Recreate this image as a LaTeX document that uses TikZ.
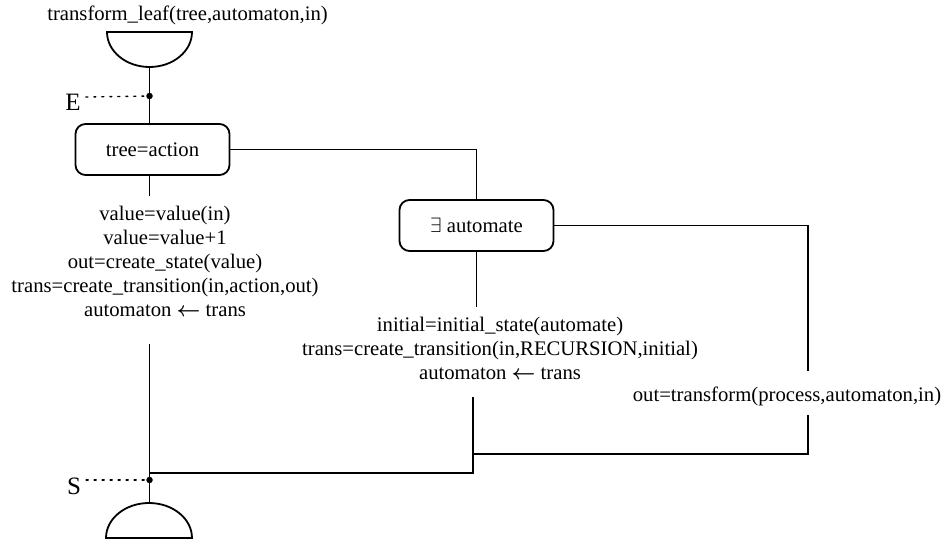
\documentclass[tikz,border=0pt]{standalone}
\usepackage{fontspec}
\setmainfont{Liberation Serif}
\newcommand{\assignarrow}{{\boldmath$\leftarrow$}}
\begin{document}
\begin{tikzpicture}[x=1pt,y=-1pt,
  line/.style={line width=1.8pt,line join=miter},
  box/.style={draw,line width=1.8pt,rounded corners=10pt,minimum width=154pt,minimum height=51pt,inner sep=0pt,font=\fontsize{20.7}{22}\selectfont},
  txt/.style={inner sep=0pt,align=center,font=\fontsize{20.7}{24}\selectfont},
  letter/.style={inner sep=0pt,font=\fontsize{25}{25}\selectfont},
  dotline/.style={line width=1.4pt,dash pattern=on 2pt off 6pt,line cap=round},
  junction/.style={circle,fill,inner sep=0pt,minimum size=6.5pt}]
\useasboundingbox (0,0) rectangle (946,543);

% heading
\node[txt] (title) at (187.5,15) {transform\_leaf(tree,automaton,in)};

% start cup
\draw[line] (107,32) -- (192,32) arc[start angle=0,end angle=-180,x radius=42.5pt,y radius=35pt] -- cycle;
\coordinate (cupT) at (149.5,67);

% entry point
\node[junction] (Edot) at (149.5,96) {};
\node[letter] (Elab) at (73,102) {E};
\draw[dotline] (Elab.east) ++(5,-5) coordinate (Estart) (Estart) -- (Edot);

% first test
\node[box] (action) at (152.5,149.5) {tree=action};
\draw[line] (cupT) -- (cupT |- action.north);

% leaf branch
\coordinate (aBelow) at (149.5,196);
\draw[line] (action.south -| cupT) -- (aBelow);
\node[txt] (leftcode) at (165,261) {value=value(in)\\value=value+1\\out=create\_state(value)\\trans=create\_transition(in,action,out)\\automaton \assignarrow{} trans};

% second test
\node[box] (exists) at (476.5,225.5) {$\exists$ automate};
\draw[line] (action.east) -| (exists.north);

% recursion branch
\coordinate (xBelow) at (476.5,307);
\draw[line] (exists.south) -- (xBelow);
\node[txt] (midcode) at (500,348) {initial=initial\_state(automate)\\trans=create\_transition(in,RECURSION,initial)\\automaton \assignarrow{} trans};

% process branch
\coordinate (rTop) at (808,371);
\draw[line] (exists.east) -| (rTop);
\node[txt] (rightcode) at (787,396) {out=transform(process,automaton,in)};
\coordinate (rBot) at (808,415);
\coordinate (mJoin) at (473,454);
\draw[line] (rBot) |- (mJoin);

% merge towards the exit
\coordinate (mTop) at (473,397);
\coordinate (sJoin) at (149.5,473);
\draw[line] (mTop) |- (sJoin);

\coordinate (lTop) at (149.5,344);
\coordinate (cupB) at (149.5,503);
\draw[line] (lTop) -- (cupB);

% exit point
\node[junction] (Sdot) at (149.5,480) {};
\node[letter] (Slab) at (74,486) {S};
\draw[dotline] (Slab.east) ++(5,-6) coordinate (Sstart) (Sstart) -- (Sdot);

% end cup
\draw[line] (106,538) arc[start angle=180,end angle=0,x radius=43pt,y radius=35pt] -- cycle;
\end{tikzpicture}
\end{document}
